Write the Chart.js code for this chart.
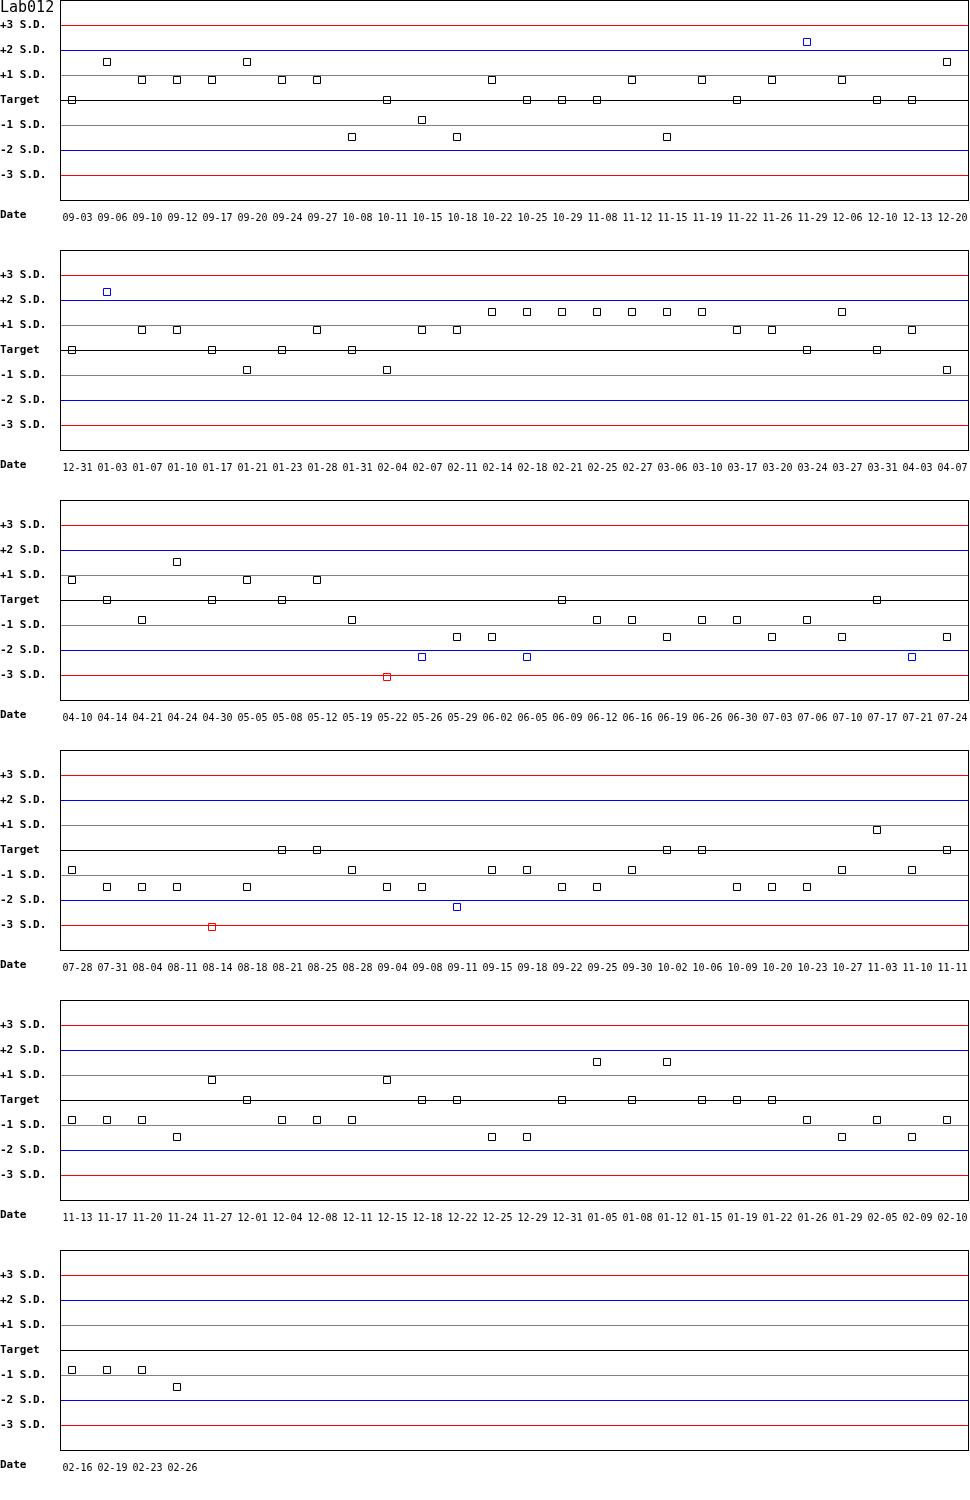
<!DOCTYPE html>
<html>
<head>
<meta charset="utf-8">
<title>Lab012</title>
<script src="https://cdn.jsdelivr.net/npm/chart.js@4.4.0/dist/chart.umd.min.js"></script>
<style>
    body { margin: 0; background: #ffffff; }
    canvas { display: block; }
</style>
</head>
<body>
<div id="charts"></div>
<script>
// Chart title and data (values in S.D. from target)
const labName = "Lab012";

const dates = [
    "09-03", "09-06", "09-10", "09-12", "09-17", "09-20", "09-24", "09-27", "10-08", "10-11", "10-15", "10-18", "10-22",
    "10-25", "10-29", "11-08", "11-12", "11-15", "11-19", "11-22", "11-26", "11-29", "12-06", "12-10", "12-13", "12-20",
    "12-31", "01-03", "01-07", "01-10", "01-17", "01-21", "01-23", "01-28", "01-31", "02-04", "02-07", "02-11", "02-14",
    "02-18", "02-21", "02-25", "02-27", "03-06", "03-10", "03-17", "03-20", "03-24", "03-27", "03-31", "04-03", "04-07",
    "04-10", "04-14", "04-21", "04-24", "04-30", "05-05", "05-08", "05-12", "05-19", "05-22", "05-26", "05-29", "06-02",
    "06-05", "06-09", "06-12", "06-16", "06-19", "06-26", "06-30", "07-03", "07-06", "07-10", "07-17", "07-21", "07-24",
    "07-28", "07-31", "08-04", "08-11", "08-14", "08-18", "08-21", "08-25", "08-28", "09-04", "09-08", "09-11", "09-15",
    "09-18", "09-22", "09-25", "09-30", "10-02", "10-06", "10-09", "10-20", "10-23", "10-27", "11-03", "11-10", "11-11",
    "11-13", "11-17", "11-20", "11-24", "11-27", "12-01", "12-04", "12-08", "12-11", "12-15", "12-18", "12-22", "12-25",
    "12-29", "12-31", "01-05", "01-08", "01-12", "01-15", "01-19", "01-22", "01-26", "01-29", "02-05", "02-09", "02-10",
    "02-16", "02-19", "02-23", "02-26"
];

const sdValues = [
    0, 1.52, 0.8, 0.8, 0.8, 1.52, 0.8, 0.8, -1.48, 0, -0.8, -1.48, 0.8,
    0, 0, 0, 0.8, -1.48, 0.8, 0, 0.8, 2.32, 0.8, 0, 0, 1.52,
    0, 2.32, 0.8, 0.8, 0, -0.8, 0, 0.8, 0, -0.8, 0.8, 0.8, 1.52,
    1.52, 1.52, 1.52, 1.52, 1.52, 1.52, 0.8, 0.8, 0, 1.52, 0, 0.8, -0.8,
    0.8, 0, -0.8, 1.52, 0, 0.8, 0, 0.8, -0.8, -3.08, -2.28, -1.48, -1.48,
    -2.28, 0, -0.8, -0.8, -1.48, -0.8, -0.8, -1.48, -0.8, -1.48, 0, -2.28, -1.48,
    -0.8, -1.48, -1.48, -1.48, -3.08, -1.48, 0, 0, -0.8, -1.48, -1.48, -2.28, -0.8,
    -0.8, -1.48, -1.48, -0.8, 0, 0, -1.48, -1.48, -1.48, -0.8, 0.8, -0.8, 0,
    -0.8, -0.8, -0.8, -1.48, 0.8, 0, -0.8, -0.8, -0.8, 0.8, 0, 0, -1.48,
    -1.48, 0, 1.52, 0, 1.52, 0, 0, 0, -0.8, -1.48, -0.8, -1.48, -0.8,
    -0.8, -0.8, -0.8, -1.48
];

const sdTickValues = [3, 2, 1, 0, -1, -2, -3];
const sdTickLabels = ["+3 S.D.", "+2 S.D.", "+1 S.D.", "Target", "-1 S.D.", "-2 S.D.", "-3 S.D."];

const pointsPerRow = 26;
const monoFont = "'DejaVu Sans Mono', 'Liberation Mono', monospace";

// Colour of the control limit lines
function limitColor(value) {
    const a = Math.abs(value);
    if (a === 3) return "#ff0000";
    if (a === 2) return "#0000ff";
    if (a === 1) return "#808080";
    return "#000000";
}

// Marker colour: blue past 2 S.D., red past 3 S.D.
function markerColor(value) {
    const a = Math.abs(value);
    if (a >= 3) return "#ff0000";
    if (a >= 2) return "#0000ff";
    return "#000000";
}

// Draws the limit lines, the plot frame, the "Date" caption and the lab title
const framePlugin = {
    id: "frame",
    beforeDatasetsDraw(chart, args, opts) {
        const { ctx, chartArea: area } = chart;
        const yScale = chart.scales.y;
        ctx.save();
        ctx.lineWidth = 1;
        sdTickValues.forEach((v) => {
            const y = Math.round(yScale.getPixelForValue(v)) + 0.5;
            ctx.strokeStyle = limitColor(v);
            ctx.beginPath();
            ctx.moveTo(area.left, y);
            ctx.lineTo(area.right, y);
            ctx.stroke();
        });

        ctx.strokeStyle = "#000000";
        ctx.strokeRect(area.left + 0.5, area.top + 0.5, area.right - area.left, area.bottom - area.top);

        ctx.fillStyle = "#000000";
        ctx.textAlign = "left";
        ctx.textBaseline = "middle";
        ctx.font = "bold 11px " + monoFont;
        ctx.fillText("Date", 0, area.bottom + 15);
        if (opts.title) {
            ctx.font = "15px " + monoFont;
            ctx.fillText(opts.title, 0, 8);
        }
        ctx.restore();
    },
};

// Function to create one row (26 runs) of the Levey-Jennings chart
function createRowChart(canvas, rowDates, rowValues, title) {
    return new Chart(canvas.getContext("2d"), {
        type: "scatter",
        data: {
            datasets: [
                {
                    data: rowValues.map((v, i) => ({ x: i, y: v })),
                    pointStyle: "rect",
                    pointRadius: 4.95,
                    pointHoverRadius: 4.95,
                    pointBorderWidth: 1,
                    pointBackgroundColor: "rgba(0, 0, 0, 0)",
                    pointBorderColor: rowValues.map(markerColor),
                },
            ],
        },
        options: {
            responsive: false,
            animation: false,
            devicePixelRatio: 1,
            events: [],
            layout: { autoPadding: false, padding: { left: 0, right: 2, top: 0, bottom: 0 } },
            plugins: {
                legend: { display: false },
                tooltip: { enabled: false },
                frame: { title: title },
            },
            scales: {
                x: {
                    type: "linear",
                    min: -12 / 35,
                    max: 896 / 35,
                    grid: { display: false, drawTicks: false },
                    border: { display: false },
                    afterBuildTicks: (scale) => {
                        scale.ticks = rowDates.map((d, i) => ({ value: i }));
                    },
                    afterFit: (scale) => {
                        scale.height = 50;
                        scale.paddingLeft = 0;
                        scale.paddingRight = 0;
                    },
                    ticks: {
                        autoSkip: false,
                        maxRotation: 0,
                        padding: 12,
                        labelOffset: 5.5,
                        color: "#000000",
                        font: { family: monoFont, size: 10 },
                        callback: (value) => rowDates[value],
                    },
                },
                y: {
                    min: -4,
                    max: 4,
                    grid: { display: false, drawTicks: false },
                    border: { display: false },
                    afterBuildTicks: (scale) => {
                        scale.ticks = sdTickValues.map((v) => ({ value: v }));
                    },
                    afterFit: (scale) => {
                        scale.width = 60;
                        scale.paddingTop = 0;
                        scale.paddingBottom = 0;
                    },
                    ticks: {
                        autoSkip: false,
                        crossAlign: "far",
                        color: "#000000",
                        font: { family: monoFont, size: 11, weight: "bold" },
                        callback: (value) => sdTickLabels[sdTickValues.indexOf(value)],
                    },
                },
            },
        },
        plugins: [framePlugin],
    });
}

// Split the runs into rows and build a chart for each
const container = document.getElementById("charts");
for (let start = 0; start < dates.length; start += pointsPerRow) {
    const canvas = document.createElement("canvas");
    canvas.width = 970;
    canvas.height = 250;
    container.appendChild(canvas);
    createRowChart(
        canvas,
        dates.slice(start, start + pointsPerRow),
        sdValues.slice(start, start + pointsPerRow),
        start === 0 ? labName : ""
    );
}
</script>
</body>
</html>
